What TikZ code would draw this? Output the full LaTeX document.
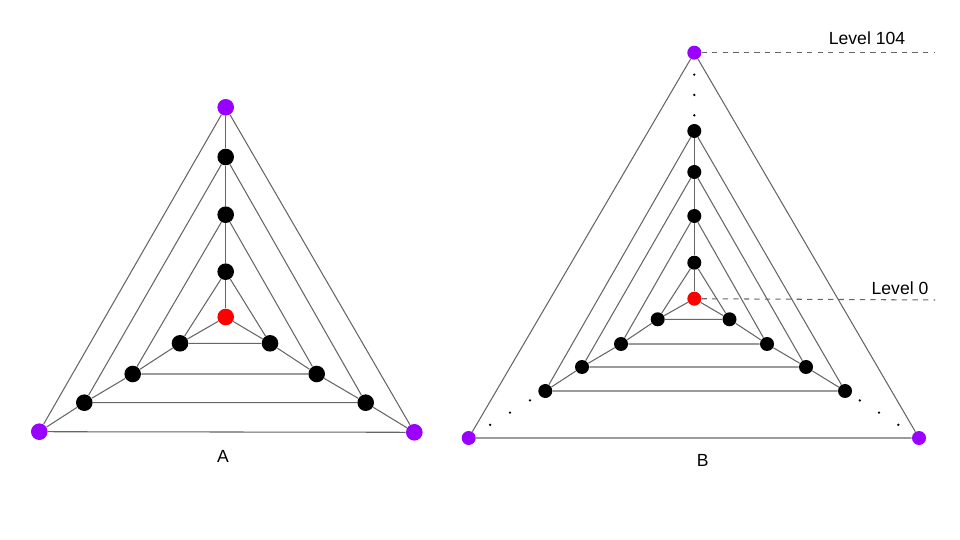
\documentclass[tikz,border=0pt]{standalone}
\usepackage{fontspec}
\setmainfont{Liberation Sans}
\usepackage{tikz}
\usetikzlibrary{calc, positioning}

\definecolor{vpurple}{HTML}{9900FF}
\definecolor{vred}{HTML}{FF0000}
\definecolor{edgegray}{HTML}{666666}

\begin{document}
\begin{tikzpicture}[x=0.02cm, y=-0.02cm,
    vert/.style={circle, fill=black, inner sep=0pt, minimum size=16.6*0.02cm},
    root/.style={vert, fill=vred},
    tip/.style={vert, fill=vpurple},
    small/.style={minimum size=14*0.02cm},
    edge/.style={edgegray, line width=0.6pt},
    lbl/.style={font=\fontsize{10}{12}\selectfont}]
  \useasboundingbox (0,0) rectangle (960,540);
  % ---- A: four nested triangles ----
  \begin{scope}
    \node[root] (a0) at (225.7,317) {};
    \node[vert] (a1t) at (225.7,271.7) {};
    \node[vert] (a1l) at (180,343.3) {};
    \node[vert] (a1r) at (270,343.3) {};
    \node[vert] (a2t) at (225.7,214.7) {};
    \node[vert] (a2l) at (132.7,374) {};
    \node[vert] (a2r) at (316.7,374) {};
    \node[vert] (a3t) at (225.7,157) {};
    \node[vert] (a3l) at (84.3,402.7) {};
    \node[vert] (a3r) at (365.7,402.7) {};
    \node[tip] (aot) at (225.7,107.3) {};
    \node[tip] (aol) at (39.3,431.7) {};
    \node[tip] (aor) at (414.3,432.3) {};
    \foreach \s in {t,l,r}
      \draw[edge] (a0) -- (a1\s) -- (a2\s) -- (a3\s) -- (ao\s);
    \foreach \k in {1,2,3,o}
      \draw[edge] (a\k t) -- (a\k l) -- (a\k r) -- (a\k t);
    \node[lbl] (alabel) at (223,456) {A};
  \end{scope}
  % ---- B: levels 0 .. 104 ----
  \begin{scope}
    \node[root, small] (b0) at (694.3,298.7) {};
    \node[vert, small] (b1t) at (694.3,262.7) {};
    \node[vert, small] (b1l) at (657.7,319.3) {};
    \node[vert, small] (b1r) at (729.5,319.3) {};
    \node[vert, small] (b2t) at (694.3,216) {};
    \node[vert, small] (b2l) at (621,344) {};
    \node[vert, small] (b2r) at (767,344) {};
    \node[vert, small] (b3t) at (694.3,172) {};
    \node[vert, small] (b3l) at (582,367) {};
    \node[vert, small] (b3r) at (806,367) {};
    \node[vert, small] (b4t) at (694.3,131) {};
    \node[vert, small] (b4l) at (545.3,391) {};
    \node[vert, small] (b4r) at (845,391) {};
    \node[tip, small] (bot) at (694.3,52.7) {};
    \node[tip, small] (bol) at (468.7,438) {};
    \node[tip, small] (bor) at (919,438) {};
    \foreach \s in {t,l,r}
      \draw[edge] (b0) -- (b1\s) -- (b2\s) -- (b3\s) -- (b4\s);
    \foreach \k in {1,2,3,4,o}
      \draw[edge] (b\k t) -- (b\k l) -- (b\k r) -- (b\k t);
    % dots for the skipped levels
    \foreach \s in {t,l,r}
      \foreach \f in {0.2,0.46,0.72}
        \fill ($(b4\s)!\f!(bo\s)$) circle (1.3);
    % level markers
    \coordinate (top end) at (935,52.7);
    \coordinate (root end) at (935,300);
    \draw[edge, dashed] (bot) -- (top end);
    \draw[edge, dashed] (b0) -- (root end);
    \node[lbl] (ltop) at (867,38) {Level 104};
    \node[lbl] (lroot) at (900,288) {Level 0};
    \node[lbl] (blabel) at (702.7,460.7) {B};
  \end{scope}
\end{tikzpicture}
\end{document}
